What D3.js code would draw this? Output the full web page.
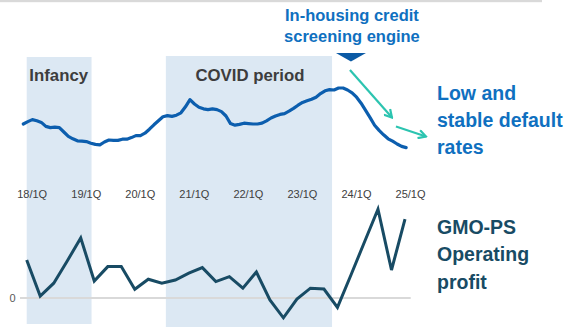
<!DOCTYPE html>
<html>
<head>
<meta charset="utf-8">
<script src="https://cdn.jsdelivr.net/npm/d3@7"></script>
<style>
  body { margin: 0; background: #fff; }
  svg { display: block; font-family: "Liberation Sans", Arial, Helvetica, sans-serif; }
</style>
</head>
<body>
<svg id="chart" width="578" height="330"></svg>
<script>
// Quarter index 0 = 18/1Q, 28 = 25/1Q
const tickQuarters = [0, 4, 8, 12, 16, 20, 24, 28];
const tickLabels = ["18/1Q", "19/1Q", "20/1Q", "21/1Q", "22/1Q", "23/1Q", "24/1Q", "25/1Q"];

// Monthly default rate (%), first month sits a quarter-step before 18/1Q
const defaultRate = [
  1.40, 1.46, 1.51, 1.48, 1.44, 1.34, 1.31, 1.32, 1.31, 1.20,
  1.09, 1.03, 0.98, 0.97, 0.96, 0.92, 0.89, 0.88, 0.95, 1.00,
  0.99, 0.99, 1.02, 1.02, 1.06, 1.11, 1.11, 1.17, 1.27, 1.38,
  1.48, 1.58, 1.61, 1.59, 1.62, 1.68, 1.83, 2.01, 1.90, 1.82,
  1.78, 1.76, 1.78, 1.76, 1.71, 1.60, 1.41, 1.37, 1.39, 1.42,
  1.41, 1.40, 1.40, 1.42, 1.48, 1.55, 1.60, 1.64, 1.66, 1.72,
  1.79, 1.87, 1.94, 1.98, 2.02, 2.07, 2.16, 2.23, 2.26, 2.25,
  2.30, 2.30, 2.25, 2.18, 2.07, 1.92, 1.74, 1.56, 1.37, 1.24,
  1.13, 1.03, 0.97, 0.90, 0.84, 0.81
];
const rateStartQuarter = -0.25;

// Quarterly GMO-PS operating profit, 18/1Q .. 25/1Q
const operatingProfit = [
  1.90, 0.10, 0.74, 1.85, 3.00, 0.85, 1.57, 1.57, 0.44, 0.94,
  0.74, 0.90, 1.24, 1.52, 0.82, 1.07, 0.49, 1.30, -0.10, -0.99,
  -0.05, 0.49, 0.45, -0.47, 1.15, 2.80, 4.44, 1.40, 3.94
];

// Highlighted periods, in quarter units
const periodNames = ["Infancy", "COVID period"];
const periodStart = [0, 10.3];
const periodEnd = [4.8, 22.6];

const engineLaunchQuarter = 24;

// ---- styling ----
const C = {
  band: "#dce8f3",
  rateLine: "#0c5eae",
  profitLine: "#184b64",
  blueText: "#0f70c0",
  darkText: "#3d3d3d",
  axisText: "#404040",
  teal: "#2cc4b0",
  marker: "#0b5aa5",
  rule: "#d9d9d9"
};

const svg = d3.select("#chart");

const x = d3.scaleLinear().domain([0, 28]).range([26.7, 405]);
const yRate = d3.scaleLinear().domain([0.8, 2.3]).range([148, 88]);
const yProfit = d3.scaleLinear().domain([-1, 4.5]).range([318, 208]);

// top rule
svg.append("rect").attr("x", 0).attr("y", 0).attr("width", 542).attr("height", 2.2).attr("fill", C.rule);

// period bands
const bandExtent = [[57, 324], [56, 327]];
const periods = periodNames.map((n, i) => ({ name: n, from: periodStart[i], to: periodEnd[i], top: bandExtent[i][0], bottom: bandExtent[i][1] }));
svg.append("g").selectAll("rect").data(periods).join("rect")
  .attr("x", d => x(d.from))
  .attr("width", d => x(d.to) - x(d.from))
  .attr("y", d => d.top)
  .attr("height", d => d.bottom - d.top)
  .attr("fill", C.band);

// period labels
svg.append("g").selectAll("text").data(periods).join("text")
  .attr("x", (d, i) => i === 0 ? x(d.from) + 2.6 : (x(d.from) + x(d.to)) / 2 + 1)
  .attr("y", 80.5)
  .attr("text-anchor", (d, i) => i === 0 ? "start" : "middle")
  .attr("font-size", 16.8)
  .attr("font-weight", "bold")
  .attr("fill", C.darkText)
  .text(d => d.name);

// x axis labels
const xAxis = d3.axisBottom(x)
  .tickValues(tickQuarters)
  .tickFormat((d, i) => tickLabels[i])
  .tickSize(0)
  .tickPadding(3);
const gx = svg.append("g").attr("transform", "translate(5,187.5)").call(xAxis);
gx.select(".domain").remove();
gx.selectAll("text").attr("font-size", 11).attr("fill", C.axisText).attr("font-family", "Liberation Sans, Arial, sans-serif");

// zero rule for operating profit
svg.append("line")
  .attr("x1", 20).attr("x2", 410.7)
  .attr("y1", yProfit(0)).attr("y2", yProfit(0))
  .attr("stroke", C.rule).attr("stroke-width", 2);

const yAxis = d3.axisLeft(yProfit).tickValues([0]).tickFormat(d3.format("d")).tickSize(0).tickPadding(3);
const gy = svg.append("g").attr("transform", "translate(18.7,0)").call(yAxis);
gy.select(".domain").remove();
gy.selectAll("text").attr("font-size", 11).attr("fill", "#595959").attr("font-family", "Liberation Sans, Arial, sans-serif");

// default rate line
const rateLine = d3.line()
  .x((d, i) => x(rateStartQuarter + i / 3))
  .y(d => yRate(d));
svg.append("path")
  .datum(defaultRate)
  .attr("d", rateLine)
  .attr("fill", "none")
  .attr("stroke", C.rateLine)
  .attr("stroke-width", 3.2)
  .attr("stroke-linejoin", "round")
  .attr("stroke-linecap", "round");

// operating profit line
const profitLine = d3.line()
  .x((d, i) => x(i))
  .y(d => yProfit(d));
svg.append("path")
  .datum(operatingProfit)
  .attr("d", profitLine)
  .attr("fill", "none")
  .attr("stroke", C.profitLine)
  .attr("stroke-width", 3)
  .attr("stroke-linejoin", "miter");

// engine launch marker and caption
const ex = x(engineLaunchQuarter);
svg.append("path")
  .attr("d", `M${ex - 15},53 L${ex + 15},53 L${ex},61.5 Z`)
  .attr("fill", C.marker);

const caption = svg.append("text")
  .attr("text-anchor", "middle")
  .attr("font-size", 16.5)
  .attr("font-weight", "bold")
  .attr("fill", C.blueText);
caption.append("tspan").attr("x", ex + 1).attr("y", 20.5).text("In-housing credit");
caption.append("tspan").attr("x", ex + 1).attr("y", 41.5).text("screening engine");

// teal arrows
const defs = svg.append("defs");
defs.append("marker")
  .attr("id", "head")
  .attr("viewBox", "0 0 10 10")
  .attr("refX", 8.5).attr("refY", 5)
  .attr("markerWidth", 10).attr("markerHeight", 10)
  .attr("markerUnits", "userSpaceOnUse")
  .attr("orient", "auto")
  .append("path")
  .attr("d", "M1,0.8 L8.5,5 L1,9.2")
  .attr("fill", "none")
  .attr("stroke", C.teal)
  .attr("stroke-width", 2.2);

const arrows = [
  [[ex - 1, 70], [ex + 41, 117.5]],
  [[ex + 45, 126.5], [ex + 75, 136.5]]
];
svg.append("g").selectAll("line").data(arrows).join("line")
  .attr("x1", d => d[0][0]).attr("y1", d => d[0][1])
  .attr("x2", d => d[1][0]).attr("y2", d => d[1][1])
  .attr("stroke", C.teal)
  .attr("stroke-width", 2.2)
  .attr("marker-end", "url(#head)");

// right-hand captions
function block(lines, y0, step, color) {
  const t = svg.append("text")
    .attr("font-size", 19.5)
    .attr("font-weight", "bold")
    .attr("fill", color);
  lines.forEach((s, i) => t.append("tspan").attr("x", 437).attr("y", y0 + i * step).text(s));
}
block(["Low and", "stable default", "rates"], 99.5, 27, C.blueText);
block(["GMO-PS", "Operating", "profit"], 233.5, 27.5, C.profitLine);
</script>
</body>
</html>
